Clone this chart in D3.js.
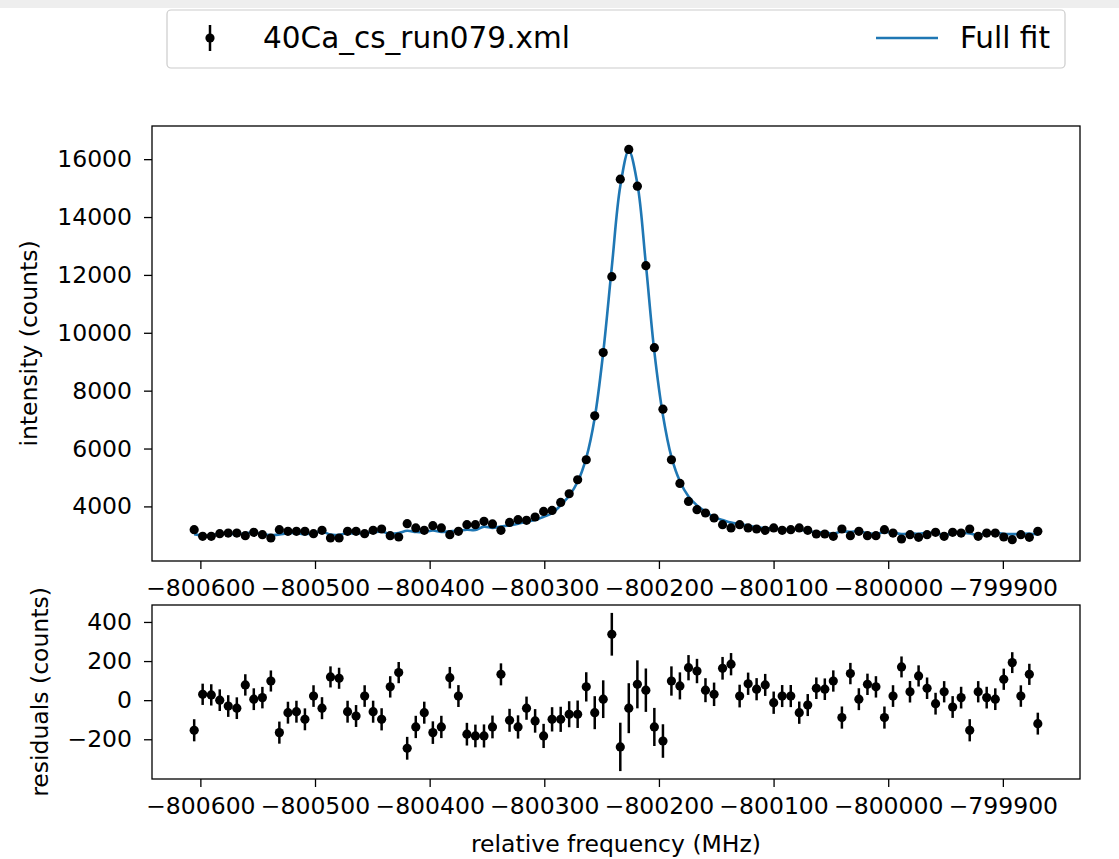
<!DOCTYPE html>
<html>
<head>
<meta charset="utf-8">
<script src="https://cdn.jsdelivr.net/npm/d3@7"></script>
<style>
  body { margin: 0; background: #fff; }
  text { font-family: "DejaVu Sans", sans-serif; }
</style>
</head>
<body>
<svg id="chart"></svg>
<script>
// relative frequency of each scan step (MHz)
const freq = [
  -800605.4, -800598.0, -800590.5, -800583.1, -800575.7, -800568.2, -800560.8, -800553.4, -800545.9, -800538.5,
  -800531.1, -800523.6, -800516.2, -800508.8, -800501.3, -800493.9, -800486.5, -800479.0, -800471.6, -800464.2,
  -800456.7, -800449.3, -800441.9, -800434.4, -800427.0, -800419.6, -800412.1, -800404.7, -800397.2, -800389.8,
  -800382.4, -800374.9, -800367.5, -800360.1, -800352.6, -800345.2, -800337.8, -800330.3, -800322.9, -800315.5,
  -800308.0, -800300.6, -800293.2, -800285.7, -800278.3, -800270.9, -800263.4, -800256.0, -800248.6, -800241.1,
  -800233.7, -800226.3, -800218.8, -800211.4, -800204.0, -800196.5, -800189.1, -800181.7, -800174.2, -800166.8,
  -800159.4, -800151.9, -800144.5, -800137.1, -800129.6, -800122.2, -800114.8, -800107.3, -800099.9, -800092.5,
  -800085.0, -800077.6, -800070.2, -800062.7, -800055.3, -800047.9, -800040.4, -800033.0, -800025.6, -800018.1,
  -800010.7, -800003.3, -799995.8, -799988.4, -799981.0, -799973.5, -799966.1, -799958.7, -799951.2, -799943.8,
  -799936.4, -799928.9, -799921.5, -799914.1, -799906.6, -799899.2, -799891.8, -799884.3, -799876.9, -799869.5
];

// measured intensity (counts)
const counts = [
  3196, 2965, 2965, 3058, 3080, 3080, 2988, 3103, 3023, 2908,
  3196, 3138, 3138, 3138, 3058, 3172, 2908, 2908, 3138, 3138,
  3058, 3172, 3220, 2988, 2942, 3403, 3255, 3172, 3334, 3255,
  3023, 3138, 3368, 3368, 3483, 3393, 3172, 3448, 3541, 3518,
  3634, 3827, 3862, 4138, 4438, 4922, 5612, 7130, 9315, 11938,
  15310, 16335, 15068, 12318, 9487, 7360, 5612, 4794, 4173, 3886,
  3772, 3600, 3368, 3255, 3368, 3255, 3220, 3172, 3255, 3172,
  3196, 3255, 3172, 3047, 3047, 2965, 3220, 2988, 3138, 2988,
  2988, 3196, 3080, 2873, 3023, 2930, 3023, 3103, 2965, 3103,
  3080, 3220, 2965, 3080, 3080, 2942, 2850, 3023, 2930, 3138
];

// residuals (counts), fit minus data
const residuals = [
  -154, 30, 27, 0, -30, -41, 78, 5, 13, 98,
  -166, -64, -59, -98, 21, -41, 119, 112, -59, -81,
  21, -59, -98, 68, 141, -246, -137, -64, -166, -137,
  115, 21, -174, -183, -183, -137, 132, -103, -137, -41,
  -106, -183, -98, -98, -72, -72, 68, -64, 5, 337,
  -239, -41, 81, 51, -137, -209, 98, 73, 166, 149,
  51, 30, 163, 184, 21, 84, 56, 78, -13, 21,
  21, -64, -25, 61, 56, 98, -89, 136, 5, 81,
  68, -89, 21, 170, 43, 124, 61, -18, 43, -35,
  13, -154, 43, 13, 5, 107, 192, 21, 132, -120
];

const xTicks = [-800600, -800500, -800400, -800300, -800200, -800100, -800000, -799900];
const yTicksTop = [4000, 6000, 8000, 10000, 12000, 14000, 16000];
const yTicksRes = [-200, 0, 200, 400];
const legendLabels = ["40Ca_cs_run079.xml", "Full fit"];

const W = 1119, H = 859;
const fontSize = 23.5;
const fitColor = "#1f77b4";
const dotR = 4.6, barW = 2.5;

// counting (Poisson) uncertainty of each bin
const errors = counts.map(c => Math.sqrt(c));
const fitValues = counts.map((c, i) => c + residuals[i]);

const svg = d3.select("#chart").attr("width", W).attr("height", H);

// notebook strip at the top
svg.append("rect").attr("x", 0).attr("y", 0).attr("width", W).attr("height", 8).attr("fill", "#eeeeee");

const left = 152, right = 1080;
const top1 = 126, bot1 = 561;
const top2 = 605, bot2 = 779;

function padded(lo, hi) {
  const p = (hi - lo) * 0.05;
  return [lo - p, hi + p];
}

const xExt = d3.extent(freq);
const x = d3.scaleLinear().domain(padded(xExt[0], xExt[1])).range([left, right]);

const yTop = d3.scaleLinear()
  .domain(padded(d3.min(counts, (c, i) => c - errors[i]), d3.max(counts, (c, i) => c + errors[i])))
  .range([bot1, top1]);

const yRes = d3.scaleLinear()
  .domain(padded(d3.min(residuals, (r, i) => r - errors[i]), d3.max(residuals, (r, i) => r + errors[i])))
  .range([bot2, top2]);

const fmt = d3.format("d");

function styleAxis(g) {
  g.select(".domain").remove();
  g.selectAll(".tick line").attr("stroke", "#000").attr("stroke-width", 1.3);
  g.selectAll(".tick text").attr("fill", "#000").attr("font-size", fontSize)
    .attr("font-family", '"DejaVu Sans", sans-serif');
}

// ---------- top panel ----------
const gTop = svg.append("g");

gTop.append("path")
  .datum(freq.map((f, i) => [f, fitValues[i]]))
  .attr("fill", "none")
  .attr("stroke", fitColor)
  .attr("stroke-width", 2.6)
  .attr("d", d3.line().x(d => x(d[0])).y(d => yTop(d[1])).curve(d3.curveCatmullRom.alpha(0.5)));

gTop.selectAll("line.err")
  .data(freq)
  .join("line")
  .attr("class", "err")
  .attr("x1", d => x(d)).attr("x2", d => x(d))
  .attr("y1", (d, i) => yTop(counts[i] - errors[i]))
  .attr("y2", (d, i) => yTop(counts[i] + errors[i]))
  .attr("stroke", "#000").attr("stroke-width", barW);

gTop.selectAll("circle")
  .data(freq)
  .join("circle")
  .attr("cx", d => x(d))
  .attr("cy", (d, i) => yTop(counts[i]))
  .attr("r", dotR)
  .attr("fill", "#000");

gTop.append("rect")
  .attr("x", left).attr("y", top1).attr("width", right - left).attr("height", bot1 - top1)
  .attr("fill", "none").attr("stroke", "#000").attr("stroke-width", 1.3);

gTop.append("g")
  .attr("transform", `translate(0,${bot1})`)
  .call(d3.axisBottom(x).tickValues(xTicks).tickFormat(fmt).tickSize(8).tickPadding(10))
  .call(styleAxis);

gTop.append("g")
  .attr("transform", `translate(${left},0)`)
  .call(d3.axisLeft(yTop).tickValues(yTicksTop).tickFormat(fmt).tickSize(8).tickPadding(12))
  .call(styleAxis);

svg.append("text")
  .attr("transform", `translate(37,${(top1 + bot1) / 2}) rotate(-90)`)
  .attr("text-anchor", "middle")
  .attr("font-size", fontSize)
  .attr("fill", "#000")
  .text("intensity (counts)");

// ---------- residual panel ----------
const gRes = svg.append("g");

gRes.selectAll("line.err")
  .data(freq)
  .join("line")
  .attr("class", "err")
  .attr("x1", d => x(d)).attr("x2", d => x(d))
  .attr("y1", (d, i) => yRes(residuals[i] - errors[i]))
  .attr("y2", (d, i) => yRes(residuals[i] + errors[i]))
  .attr("stroke", "#000").attr("stroke-width", barW);

gRes.selectAll("circle")
  .data(freq)
  .join("circle")
  .attr("cx", d => x(d))
  .attr("cy", (d, i) => yRes(residuals[i]))
  .attr("r", dotR)
  .attr("fill", "#000");

gRes.append("rect")
  .attr("x", left).attr("y", top2).attr("width", right - left).attr("height", bot2 - top2)
  .attr("fill", "none").attr("stroke", "#000").attr("stroke-width", 1.3);

gRes.append("g")
  .attr("transform", `translate(0,${bot2})`)
  .call(d3.axisBottom(x).tickValues(xTicks).tickFormat(fmt).tickSize(8).tickPadding(10))
  .call(styleAxis);

gRes.append("g")
  .attr("transform", `translate(${left},0)`)
  .call(d3.axisLeft(yRes).tickValues(yTicksRes).tickFormat(fmt).tickSize(8).tickPadding(12))
  .call(styleAxis);

svg.append("text")
  .attr("transform", `translate(48,${(top2 + bot2) / 2}) rotate(-90)`)
  .attr("text-anchor", "middle")
  .attr("font-size", fontSize)
  .attr("fill", "#000")
  .text("residuals (counts)");

svg.append("text")
  .attr("x", (left + right) / 2)
  .attr("y", 852)
  .attr("text-anchor", "middle")
  .attr("font-size", fontSize)
  .attr("fill", "#000")
  .text("relative frequency (MHz)");

// ---------- legend ----------
const lg = svg.append("g");
lg.append("rect")
  .attr("x", 167).attr("y", 10).attr("width", 898).attr("height", 58).attr("rx", 4)
  .attr("fill", "#fff").attr("stroke", "#cccccc").attr("stroke-width", 1.2);

lg.append("line")
  .attr("x1", 210).attr("x2", 210).attr("y1", 25).attr("y2", 51)
  .attr("stroke", "#000").attr("stroke-width", barW);
lg.append("circle").attr("cx", 210).attr("cy", 38).attr("r", dotR).attr("fill", "#000");
lg.append("text")
  .attr("x", 263).attr("y", 48)
  .attr("font-size", 29.5).attr("fill", "#000")
  .text(legendLabels[0]);

lg.append("line")
  .attr("x1", 876).attr("x2", 938).attr("y1", 38).attr("y2", 38)
  .attr("stroke", fitColor).attr("stroke-width", 2.6);
lg.append("text")
  .attr("x", 960).attr("y", 48)
  .attr("font-size", 29.5).attr("fill", "#000")
  .text(legendLabels[1]);
</script>
</body>
</html>
